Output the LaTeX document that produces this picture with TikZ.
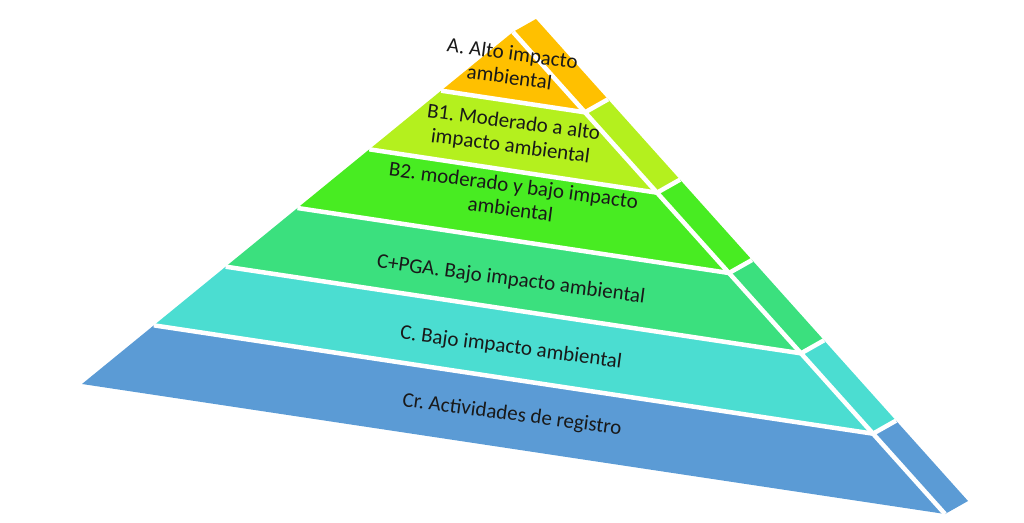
\documentclass[tikz,border=0pt]{standalone}
\usepackage{fontspec}
\setmainfont{Carlito}
\usetikzlibrary{calc}
\definecolor{cA}{HTML}{FFC000}
\definecolor{cBa}{HTML}{B4F01E}
\definecolor{cBb}{HTML}{48EC22}
\definecolor{cCP}{HTML}{3BE07E}
\definecolor{cC}{HTML}{4BDDD1}
\definecolor{cCr}{HTML}{5B9BD5}
\begin{document}
\frenchspacing
\begin{tikzpicture}[x=1pt,y=-1pt,
  lab/.style={font=\fontsize{21}{24}\selectfont, align=center, rotate=-7.5, inner sep=0pt, text=black!90},
  gapline/.style={white, line width=4.5pt, line join=miter}]
\useasboundingbox (0,0) rectangle (1024,522);
\coordinate (A) at (513,32);
\coordinate (BL) at (82,384);
\coordinate (BR) at (945,514);
\coordinate (d) at (23,-13);
\foreach \i/\c in {0/cA,1/cBa,2/cBb,3/cCP,4/cC,5/cCr} {
  \pgfmathsetmacro\ta{\i/6}
  \pgfmathsetmacro\tb{(\i+1)/6}
  \fill[\c] ($(A)!\ta!(BL)$) -- ($(A)!\ta!(BR)$) -- ($(A)!\tb!(BR)$) -- ($(A)!\tb!(BL)$) -- cycle;
  \fill[\c] ($(A)!\ta!(BR)$) -- ($(A)!\ta!(BR)+(d)$) -- ($(A)!\tb!(BR)+(d)$) -- ($(A)!\tb!(BR)$) -- cycle;
}
\foreach \i in {1,...,5} {
  \draw[gapline] ($(A)!\i/6!(BL)$) -- ($(A)!\i/6!(BR)$) -- ($(A)!\i/6!(BR)+(d)$);
}
\draw[gapline] (A) -- (BR);
\node[lab] (tA) at (511,65) {A. Alto impacto\\ambiental};
\node[lab] (tB1) at (512,135) {B1. Moderado a alto\\impacto ambiental};
\node[lab] (tB2) at (512,197) {B2. moderado y bajo impacto\\ambiental};
\node[lab] (tCP) at (511,280) {C+PGA. Bajo impacto ambiental};
\node[lab] (tC) at (511,348) {C. Bajo impacto ambiental};
\node[lab] (tCr) at (512,415) {Cr. Actividades de registro};
\end{tikzpicture}
\end{document}
